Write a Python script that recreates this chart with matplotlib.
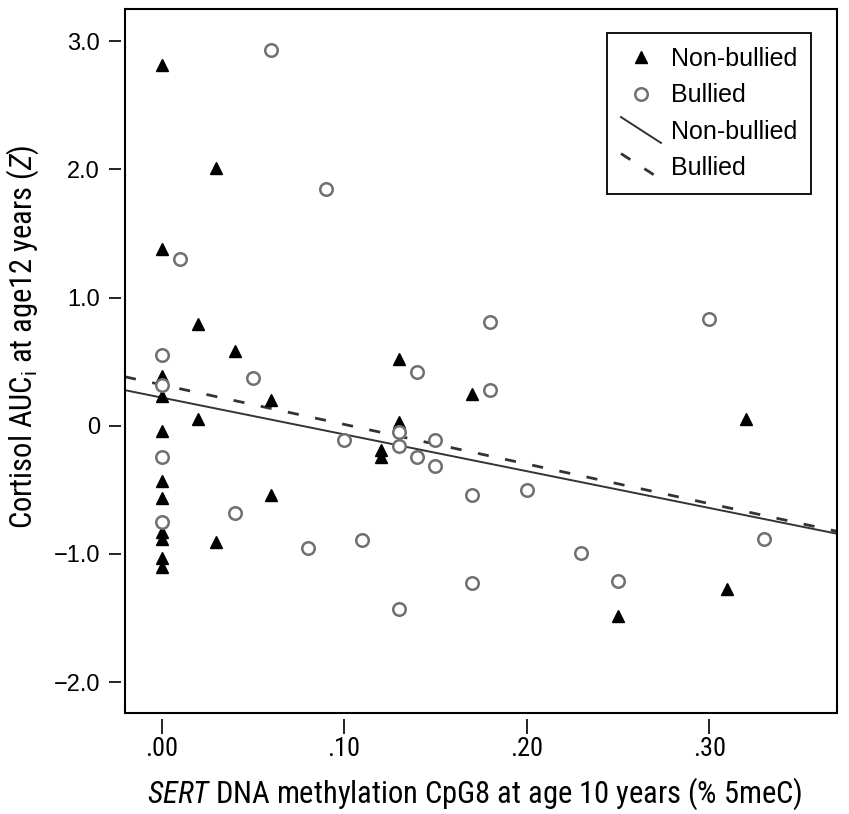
import matplotlib
matplotlib.use("Agg")
import matplotlib.pyplot as plt
from matplotlib import font_manager
from matplotlib.legend_handler import HandlerLine2D
from matplotlib.lines import Line2D

# Non-bullied (filled triangles)
nb_x = [0.00, 0.00, 0.00, 0.00, 0.00, 0.00, 0.00, 0.00, 0.00, 0.00, 0.00,
        0.03, 0.03, 0.02, 0.02, 0.04, 0.06, 0.06, 0.13, 0.13, 0.12, 0.12,
        0.17, 0.25, 0.31, 0.32]
nb_y = [2.81, 1.38, 0.39, 0.23, -0.04, -0.43, -0.56, -0.83, -0.88, -1.03, -1.10,
        2.01, -0.91, 0.79, 0.05, 0.58, 0.20, -0.54, 0.52, 0.03, -0.19, -0.24,
        0.25, -1.48, -1.27, 0.05]

# Bullied (open circles)
b_x = [0.00, 0.00, 0.00, 0.00, 0.01, 0.04, 0.05, 0.06, 0.08, 0.09, 0.10,
       0.11, 0.13, 0.13, 0.13, 0.14, 0.14, 0.15, 0.15, 0.17, 0.17, 0.18,
       0.18, 0.20, 0.23, 0.25, 0.30, 0.33]
b_y = [0.55, 0.32, -0.24, -0.75, 1.30, -0.68, 0.37, 2.93, -0.95, 1.85, -0.11,
       -0.89, -0.05, -0.16, -1.43, 0.42, -0.24, -0.11, -0.31, -0.54, -1.23, 0.81,
       0.28, -0.50, -0.99, -1.21, 0.83, -0.88]

# fit lines (intercept, slope)
nb_fit = (0.22, -2.87)
b_fit = (0.32, -3.09)

x_ticks = [0.0, 0.1, 0.2, 0.3]
x_labels = [".00", ".10", ".20", ".30"]
y_ticks = [3, 2, 1, 0, -1, -2]
y_labels = ["3.0", "2.0", "1.0", "0", "\u22121.0", "\u22122.0"]

# condensed face for axis labels if one is installed
names = {f.name for f in font_manager.fontManager.ttflist}
narrow_name = "Roboto"
for cand in ["Liberation Sans Narrow", "DejaVu Sans Condensed", "Roboto Condensed"]:
    if cand in names:
        narrow_name = cand
        break
narrow = [narrow_name, "DejaVu Sans"]
plt.rcParams["mathtext.fontset"] = "custom"
plt.rcParams["mathtext.rm"] = narrow_name
plt.rcParams["mathtext.it"] = narrow_name + ":italic"
lab_size = 22 if narrow_name != "Roboto" else 21
tick_size = 19 if narrow_name != "Roboto" else 18


class DiagonalHandler(HandlerLine2D):
    def create_artists(self, legend, orig_handle, xdescent, ydescent,
                       width, height, fontsize, trans):
        line = Line2D([-xdescent, width - xdescent],
                      [height - ydescent + 3, -ydescent - 3])
        self.update_prop(line, orig_handle, legend)
        line.set_transform(trans)
        return [line]


fig = plt.figure(figsize=(8.49, 8.14), dpi=100)
ax = fig.add_axes([125 / 849, 1 - 713 / 814, 712 / 849, 704 / 814])

xmin, xmax = -0.02, 0.37
ax.set_xlim(xmin, xmax)
ax.set_ylim(-2.24, 3.25)

ax.plot(nb_x, nb_y, linestyle="none", marker="^", ms=9, color="black",
        label="Non-bullied", zorder=3)
ax.plot(b_x, b_y, linestyle="none", marker="o", ms=9, mfc="white",
        mec="#707070", mew=1.8, label="Bullied", zorder=3)

lx = [xmin, xmax]
l1, = ax.plot(lx, [nb_fit[0] + nb_fit[1] * v for v in lx], color="#333333",
              lw=1.4, label="Non-bullied", zorder=2)
l2, = ax.plot(lx, [b_fit[0] + b_fit[1] * v for v in lx], color="#333333",
              lw=2.0, dashes=(4, 6), label="Bullied", zorder=2)

# box frame, ticks detached from it
ax.spines["left"].set_position(("outward", 3))
ax.spines["bottom"].set_position(("outward", 4))
for s in ax.spines.values():
    s.set_color("none")
ax.add_patch(plt.Rectangle((0, 0), 1, 1, transform=ax.transAxes, fill=False,
                           lw=1.5, edgecolor="black", zorder=5, clip_on=False))

ax.set_xticks(x_ticks)
ax.set_xticklabels(x_labels, family=narrow, fontsize=tick_size)
ax.set_yticks(y_ticks)
ax.set_yticklabels(y_labels, family="Liberation Sans", fontsize=17)
ax.tick_params(axis="x", length=11, width=1.2, pad=2)
ax.tick_params(axis="y", length=9, width=1.2, pad=6)

ax.set_xlabel(r"$\mathit{SERT}$ DNA methylation CpG8 at age 10 years (% 5meC)",
              family=narrow, fontsize=lab_size)
ax.set_ylabel(r"Cortisol AUC$_{\mathrm{i}}$ at age12 years ($\mathit{Z}$)",
              family=narrow, fontsize=lab_size)
ax.xaxis.set_label_coords(0.4916, -0.089)
ax.yaxis.set_label_coords(-0.118, 0.534)

leg = ax.legend(loc="upper right", bbox_to_anchor=(811 / 849, 1 - 33 / 814),
                bbox_transform=fig.transFigure, borderaxespad=0,
                prop={"family": "Liberation Sans", "size": 18},
                handlelength=1.6, handletextpad=0.4, labelspacing=0.5,
                borderpad=0.55, fancybox=False, framealpha=1, numpoints=1,
                handler_map={l1: DiagonalHandler(), l2: DiagonalHandler()})
leg.get_frame().set_edgecolor("black")
leg.get_frame().set_linewidth(1.3)

fig.savefig("out.png", dpi=100)
